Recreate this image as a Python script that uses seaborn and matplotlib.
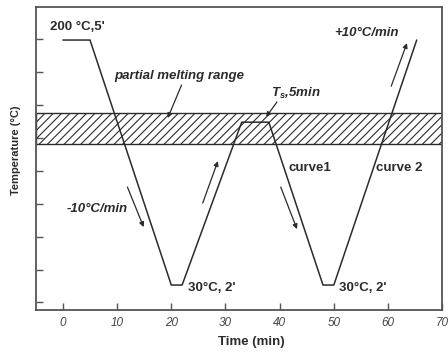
import numpy as np
import matplotlib
matplotlib.use("Agg")
import matplotlib.pyplot as plt
import seaborn as sns

# Thermal protocol: time (min) vs. temperature (°C)
time_min = [0, 5, 20, 22, 33, 38, 48, 50, 65.3]
temp_c = [200, 200, 30, 30, 143, 143, 30, 30, 200]

# Partial melting range (°C)
melt_low, melt_high = 127.8, 149.3

x_ticks = [0, 10, 20, 30, 40, 50, 60, 70]

sns.set_theme(style="ticks")
plt.rcParams["font.family"] = ["Liberation Sans", "DejaVu Sans"]
plt.rcParams["mathtext.fontset"] = "custom"
plt.rcParams["mathtext.it"] = "Liberation Sans:italic:bold"
plt.rcParams["mathtext.rm"] = "Liberation Sans:bold"
plt.rcParams["hatch.linewidth"] = 0.8

ink = "#2b2b2b"

fig = plt.figure(figsize=(4.48, 3.52), dpi=100)
ax = fig.add_axes([0.080, 0.119, 0.907, 0.861])

ax.axhspan(melt_low, melt_high, facecolor="none", edgecolor=ink,
           hatch="////", lw=1.0)

sns.lineplot(x=time_min, y=temp_c, sort=False, color=ink, lw=1.1, ax=ax)

ax.set_xlim(-5, 70)
ax.set_ylim(12.6, 222.9)
ax.set_xticks(x_ticks)
ax.set_xticklabels([str(v) for v in x_ticks], fontstyle="italic",
                   fontsize=8.5, color="#444444")
ax.set_yticks(200.7 - 22.85 * np.arange(9))
ax.set_yticklabels([])
ax.tick_params(direction="in", length=5, width=1.0, color="#555555", pad=5)
for s in ax.spines.values():
    s.set_color("#555555")
    s.set_linewidth(1.3)

ax.set_xlabel("Time (min)", fontsize=9.5, fontweight="bold", color=ink)
ax.xaxis.set_label_coords(0.53, -0.085)
ax.set_ylabel("Temperature (°C)", fontsize=8, fontweight="bold", color=ink)
ax.yaxis.set_label_coords(-0.037, 0.528)

bold = dict(fontsize=9.5, fontweight="bold", color=ink, va="center", ha="left")
bold_it = dict(bold, fontstyle="italic")

ax.text(-2.46, 209, "200 °C,5'", **bold)
ax.text(9.57, 175, "partial melting range", **bold_it)
ax.text(38.4, 163.2, r"$T_s$,5min", **bold_it)
ax.text(50.0, 204.9, "+10°C/min", **bold_it)
ax.text(41.7, 111.2, "curve1", **bold)
ax.text(57.8, 111.2, "curve 2", **bold)
ax.text(0.7, 82.7, "-10°C/min", **bold_it)
ax.text(23.0, 27.9, "30°C, 2'", **bold)
ax.text(50.97, 27.9, "30°C, 2'", **bold)

arrow = dict(arrowstyle="-|>", color=ink, lw=0.9, mutation_scale=7,
             shrinkA=0, shrinkB=0)
arrows = [
    ((21.9, 168.8), (19.35, 145.9)),
    ((39.5, 157.0), (37.5, 146.6)),
    ((11.9, 98.0), (14.9, 70.2)),
    ((25.8, 86.9), (28.6, 116.0)),
    ((40.2, 98.0), (43.2, 68.8)),
    ((60.6, 168.0), (63.5, 197.9)),
]
for start, end in arrows:
    ax.annotate("", xy=end, xytext=start, arrowprops=arrow)

fig.savefig("out.png", dpi=100)
